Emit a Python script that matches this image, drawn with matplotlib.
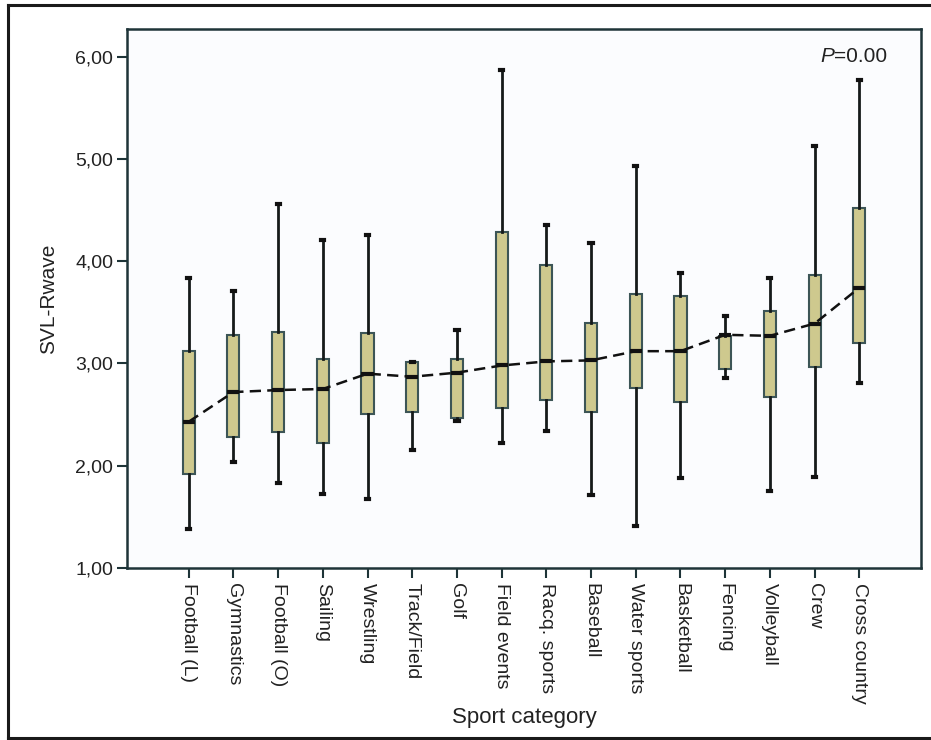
import matplotlib
matplotlib.use("Agg")
import matplotlib.pyplot as plt
from matplotlib.lines import Line2D
from matplotlib.ticker import FixedLocator, FuncFormatter

categories = ["Football (L)", "Gymnastics", "Football (O)", "Sailing", "Wrestling",
              "Track/Field", "Golf", "Field events", "Racq. sports", "Baseball",
              "Water sports", "Basketball", "Fencing", "Volleyball", "Crew",
              "Cross country"]
whisker_low = [1.38, 2.04, 1.83, 1.72, 1.67, 2.15, 2.44, 2.22, 2.34, 1.71, 1.41, 1.88, 2.86, 1.75, 1.89, 2.81]
q1 =          [1.92, 2.28, 2.33, 2.22, 2.51, 2.53, 2.47, 2.56, 2.64, 2.53, 2.76, 2.62, 2.95, 2.67, 2.97, 3.20]
median =      [2.43, 2.72, 2.74, 2.75, 2.90, 2.87, 2.91, 2.98, 3.02, 3.03, 3.12, 3.12, 3.28, 3.27, 3.39, 3.74]
q3 =          [3.12, 3.28, 3.31, 3.04, 3.30, 3.01, 3.04, 4.29, 3.96, 3.40, 3.68, 3.66, 3.27, 3.51, 3.86, 4.52]
whisker_high =[3.84, 3.71, 4.56, 4.21, 4.26, 3.01, 3.33, 5.87, 4.35, 4.18, 4.93, 3.88, 3.46, 3.84, 5.13, 5.77]
yticks = [1, 2, 3, 4, 5, 6]
p_text = "=0.00"

plt.rcParams['font.family'] = ['Liberation Sans', 'DejaVu Sans']

fig = plt.figure(figsize=(9.31, 7.40), dpi=100)
ax = fig.add_axes([127/931, 1-568/740, (921-127)/931, (568-29)/740])
ax.set_facecolor('#FBFCFE')

positions = list(range(1, len(categories)+1))
stats = []
for i in range(len(categories)):
    stats.append(dict(med=median[i], q1=min(q1[i], q3[i]), q3=max(q1[i], q3[i]),
                      whislo=whisker_low[i], whishi=whisker_high[i], fliers=[]))

spine_c = '#1E3438'
ax.bxp(stats, positions=positions, widths=0.27, patch_artist=True, showfliers=False,
       capwidths=0.07,
       boxprops=dict(facecolor='#CEC98E', edgecolor='#3C5556', linewidth=1.5),
       whiskerprops=dict(color='#151A1A', linewidth=2.0),
       capprops=dict(color='#111111', linewidth=3),
       medianprops=dict(color='#111111', linewidth=3, solid_capstyle='butt'))

ax.plot(positions, median, color='#111111', linestyle=(0, (4.5, 2.5)), linewidth=1.8, zorder=5)

ax.set_xlim(-0.38, 17.38)
ax.set_ylim(1.0, 6.27)
ax.yaxis.set_major_locator(FixedLocator(yticks))
ax.yaxis.set_major_formatter(FuncFormatter(lambda v, p: f"{v:.2f}".replace('.', ',')))
ax.set_xticks(positions)
ax.set_xticklabels(categories, rotation=-90, fontsize=14, va='top', ha='center')
ax.tick_params(axis='y', labelsize=14, length=7, width=1.5, color=spine_c, pad=3, labelcolor='#222222')
ax.tick_params(axis='x', length=7, width=1.5, color=spine_c, pad=4, labelcolor='#222222')
for s in ax.spines.values():
    s.set_color(spine_c)
    s.set_linewidth(1.8)

ax.set_ylabel("SVL-Rwave", fontsize=15, color='#222222', labelpad=12)
ax.set_xlabel("Sport category", fontsize=16, color='#222222', labelpad=2)

t = ax.annotate(p_text, xy=(887/931, 1-56/740), xycoords='figure fraction', fontsize=15,
                ha='right', va='center', color='#222222')
fig.canvas.draw()
bb = t.get_window_extent()
ax.annotate("P", xy=(bb.x0 / fig.bbox.width, 1-56/740), xycoords='figure fraction', fontsize=15,
            style='italic', ha='right', va='center', color='#222222')

# outer frame
fig.add_artist(Line2D([8/931, 8/931], [1-5/740, 1-738/740], transform=fig.transFigure, color='#1a1a1a', linewidth=2.2))
fig.add_artist(Line2D([8/931, 1.0], [1-5/740, 1-5/740], transform=fig.transFigure, color='#1a1a1a', linewidth=2.2))
fig.add_artist(Line2D([8/931, 1.0], [1-738/740, 1-738/740], transform=fig.transFigure, color='#1a1a1a', linewidth=2.2))

fig.savefig("out.png", dpi=100)
